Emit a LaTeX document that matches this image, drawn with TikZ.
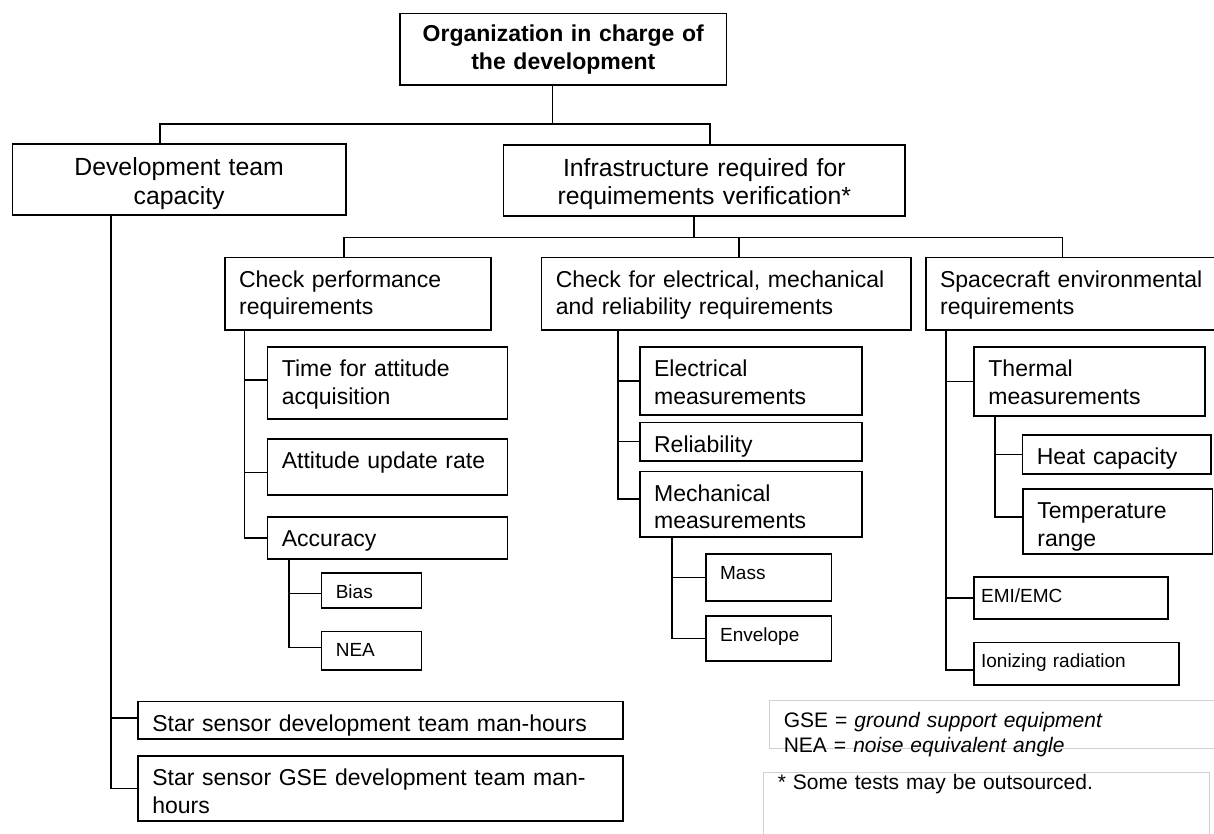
\documentclass[tikz,border=0pt]{standalone}
\usepackage{fontspec}
\setmainfont{Liberation Sans}
\definecolor{legendgray}{RGB}{208,208,208}
\tikzset{
  box/.style={draw, anchor=north west, inner ysep=4pt},
  head/.style 2 args={box, align=center, inner xsep=4pt, text width={#1-8},
    font=\bfseries\fontsize{23}{27.3}\selectfont, text height=24.3pt, text depth={#2-32.3}},
  ctop/.style 2 args={box, align=center, inner xsep=4pt, text width={#1-8},
    font=\fontsize{24.8}{28.7}\selectfont, text height=27.4pt, text depth={#2-35.4}},
  lbox/.style 2 args={box, align=left, inner xsep=14.3pt, text width={#1-28.6},
    font=\fontsize{23}{27.5}\selectfont, text height=25.8pt, text depth={#2-33.8}},
  sbox/.style 2 args={box, align=left, inner xsep=14.3pt, text width={#1-28.6},
    font=\fontsize{19}{23}\selectfont, text height=21.3pt, text depth={#2-29.3}},
  legend/.style 2 args={draw=legendgray, line width=1pt, anchor=north west, inner ysep=4pt,
    inner xsep=14pt, align=left, text width={#1-28}, font=\fontsize{21}{25}\selectfont,
    text height=22.7pt, text depth={#2-30.7}}
}
\begin{document}
\begin{tikzpicture}[x=1pt,y=-1pt,line width=1.6pt]
	\useasboundingbox (0,0) rectangle (1214,834);
	% top levels
	\node[head={326.4}{71.3}] (org) at (399.3,12.7) {Organization in charge of\\the development};
	\node[ctop={333.3}{70.7}] (dev) at (11.7,143.3) {Development team\\capacity};
	\node[ctop={401.6}{71}] (infra) at (502.7,144) {Infrastructure required for\\requimements verification*};
	\node[lbox={266}{72.3}] (perf) at (224,256.7) {Check performance\\requirements};
	\node[lbox={369.3}{72.6}] (elec) at (540.7,256.7) {Check for electrical, mechanical\\and reliability requirements};
	\node[lbox={288.5}{72.6}] (env) at (925,256.7) {\mbox{Spacecraft environmental}\\requirements};
	% performance
	\node[lbox={240}{72.3}] (time) at (266.7,346) {Time for attitude\\acquisition};
	\node[lbox={240}{55.7}] (rate) at (266.7,438.3) {Attitude update rate};
	\node[lbox={240}{42.3}] (acc) at (266.7,516) {Accuracy};
	\node[sbox={100}{35}] (bias) at (320.7,572.3) {Bias};
	\node[sbox={100}{38.6}] (nea) at (320.7,630.7) {NEA};
	% electrical, mechanical
	\node[lbox={222}{68.3}] (emeas) at (639,346) {Electrical\\measurements};
	\node[lbox={222}{38.3}] (rel) at (639,421.7) {Reliability};
	\node[lbox={222}{65.3}] (mech) at (639,470.7) {Mechanical\\measurements};
	\node[sbox={125.7}{46.7}] (mass) at (705,553.3) {Mass};
	\node[sbox={125.7}{45}] (envl) at (705,615) {Envelope};
	% environment
	\node[lbox={231}{69}] (therm) at (973.3,346) {Thermal\\measurements};
	\node[lbox={188.3}{39.3}] (heat) at (1021.7,434) {Heat capacity};
	\node[lbox={189.4}{65}] (temp) at (1022.3,488.3) {Temperature\\range};
	\node[sbox={194}{42.3}, inner xsep=7pt, text width=180] (emi) at (973.3,576) {EMI/EMC};
	\node[sbox={205}{42.3}, inner xsep=7pt, text width=191] (ion) at (973.3,641.7) {Ionizing radiation};
	% team
	\node[lbox={485.1}{37.6}] (star1) at (137.2,700.7) {Star sensor development team man-hours};
	\node[lbox={485.1}{65}] (star2) at (137.2,755) {Star sensor GSE development team man-\\hours};
	% notes
	\node[legend={450}{48}] (abbr) at (769.3,700) {GSE = \textit{ground support equipment}\\NEA = \textit{noise equivalent angle}};
	\node[legend={446}{90}, text height=13.6pt, text depth=68.4] (note) at (763.3,771.7) {* Some tests may be outsourced.};
	% links
	\draw ([xshift=-10.8]org.south) -- ++(0,38.7) coordinate (r1);
	\draw (r1) -| ([xshift=-19]dev.north);
	\draw (r1) -| ([xshift=5.8]infra.north);
	\draw ([xshift=-10.2]infra.south) -- ++(0,21) coordinate (r2);
	\draw (r2) -| ([xshift=-13.7]perf.north);
	\draw (r2) -| ([xshift=13]elec.north);
	\draw (r2) -| ([xshift=-7.6]env.north);
	\coordinate (t1) at ([xshift=20.3]perf.south west);
	\draw (t1) |- ([yshift=3.2]time.west);
	\draw (t1) |- ([yshift=-5.5]rate.west);
	\draw (t1) |- (acc.west);
	\coordinate (t2) at ([xshift=22.3]acc.south west);
	\draw (t2) |- ([yshift=-3]bias.west);
	\draw (t2) |- ([yshift=3.3]nea.west);
	\coordinate (t3) at ([xshift=77]elec.south west);
	\draw (t3) |- (emeas.west);
	\draw (t3) |- (rel.west);
	\draw (t3) |- ([yshift=5]mech.west);
	\coordinate (t4) at ([xshift=33]mech.south west);
	\draw (t4) |- (mass.west);
	\draw (t4) |- (envl.west);
	\coordinate (t5) at ([xshift=21]env.south west);
	\draw (t5) |- (therm.west);
	\draw (t5) |- (emi.west);
	\draw (t5) |- ([yshift=-6.4]ion.west);
	\coordinate (t6) at ([xshift=21.7]therm.south west);
	\draw (t6) |- (heat.west);
	\draw (t6) |- ([yshift=4.8]temp.west);
	\coordinate (t7) at ([xshift=99]dev.south west);
	\draw (t7) |- ([yshift=2.2]star1.west);
	\draw (t7) |- (star2.west);
\end{tikzpicture}
\end{document}
